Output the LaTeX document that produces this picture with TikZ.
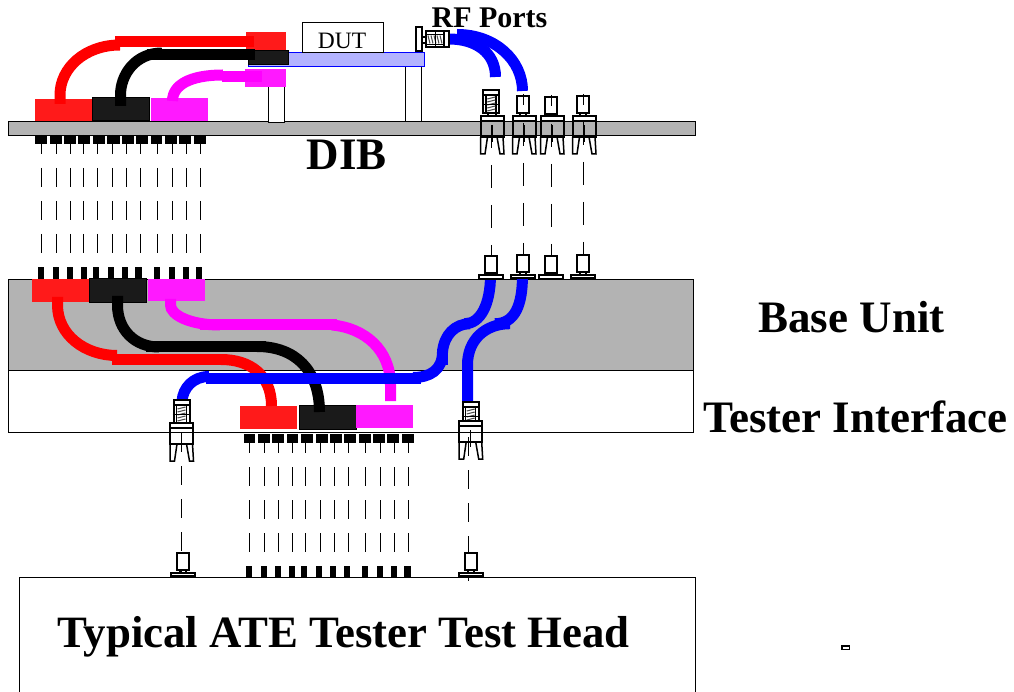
\documentclass[tikz,border=0pt]{standalone}
\usepackage{fontspec}
\setmainfont{Liberation Serif}
\definecolor{boardgray}{HTML}{B3B3B3}
\definecolor{dutblue}{HTML}{B3B3FF}
\definecolor{blockred}{HTML}{FF1A1A}
\definecolor{blockblack}{HTML}{1A1A1A}
\definecolor{blockpink}{HTML}{FF19FF}
\definecolor{cablepink}{HTML}{FF00FF}
\tikzset{
    board/.style={draw=black,line width=1pt},
    cable/.style={line width=11pt},
    sock/.style={draw=black,line width=2pt},
    pinrun/.style={line width=1pt,dash pattern=on 19pt off 14pt},
    rfrun/.style={line width=1pt,dash pattern=on 23pt off 17pt},
    bigtext/.style={anchor=base,font=\fontsize{45}{50}\selectfont\bfseries},
    % socket body with the two legs
    sockbody/.pic={
        \draw[sock] (-11.5,0) rectangle (11.5,21);
        \draw[sock,fill=white] (-11.5,0) rectangle (11.5,5);
        \draw[sock,line width=1.5pt] (-11.5,21) -- (-11.5,38) -- (-7,38) -- (-4.5,21);
        \draw[sock,line width=1.5pt] (5,21) -- (8,38) -- (12,38) -- (11,21);
        \draw[black,line width=1pt] (0,9) -- (0,26);
    },
    % cable head with the spring inside
    springhead/.pic={
        \draw[sock,fill=white] (-8,0) rectangle (8,23);
        \draw[sock] (-8,5) -- (8,5);
        \draw[black,line width=1.5pt] (-5,5) -- (-5,23);
        \draw[black,line width=1.5pt] (5,5) -- (5,23);
        \foreach \y in {8,11,14,17,20}
            \draw[black!70,line width=1pt] (-4,\y+1) -- (4,\y-1);
        \draw[black,line width=0.8pt] (-9,14) -- (9,14);
    },
    % plain barrel standing on a socket
    barrel/.pic={
        \draw[sock,fill=white] (-6,0) rectangle (6,17);
        \draw[black,line width=1pt] (0,-2) -- (0,9);
    },
    % barrel with flange on a mating face
    jack/.pic={
        \draw[sock,fill=white] (-6,0) rectangle (6,17);
        \draw[sock] (-3,17) rectangle (3,20);
        \draw[sock,fill=white] (-12,19.5) rectangle (12,23);
    }
}

\begin{document}
\begin{tikzpicture}[x=1pt,y=-1pt]
    \useasboundingbox (0,0) rectangle (1014,692);

    % Boards
    \draw[board,fill=boardgray] (8,121.5) rectangle (695,135.5);
    \draw[board,fill=boardgray] (8,279.5) rectangle (693,370.5);
    \draw[board] (8,370.5) rectangle (693,432);
    \draw[board] (19,692) -- (19,577.5) -- (695,577.5) -- (695,692);

    % Posts, load bar and DUT
    \draw[board,fill=white] (268,80) rectangle (284,122.5);
    \draw[board,fill=white] (405,60) rectangle (421,121.5);
    \draw[board,draw=blue,fill=dutblue] (248,53) rectangle (424,67);
    \draw[board,fill=white] (302,23) rectangle (383,53);
    \node[anchor=base,font=\fontsize{23.5}{26}\selectfont] (duttext) at (342,49) {DUT};

    % Digital pin runs, DIB to base unit
    \foreach \x in {41,56.5,70,83,97,112,126,140,157,172,186,200}
        \draw[pinrun] (\x,135) -- (\x,270);
    \foreach \x/\w in {35/12,50/12,64/12,78/12,93/12,107/13,122/12,136/12,151/11,165/12,179/12,194/12}
        \fill (\x,135) rectangle +(\w,9.5);
    \foreach \x/\w in {38/6,53/6,67/6,81/6,93/6,108/6,122/6,135/7,154/6,169/6,183/6,196/6}
        \fill (\x,267.5) rectangle +(\w,11.5);

    % Digital pin runs, interface to test head
    \foreach \x in {249.3,264.3,278.3,292.3,305.3,320.3,334.3,348.3,365.3,380.3,394.3,408.3}
        \draw[pinrun] (\x,434) -- (\x,570);
    \foreach \x/\w in {244/11,258/12,272/12,287/11,301/12,316/12,330/12,344/12,359/12,373/12,387/12,402/12}
        \fill (\x,433.5) rectangle +(\w,9);
    \foreach \x/\w in {246/6,261/6,275/6,289/6,301/6,316/6,330/6,344/6,362/6,377/6,391/6,404/7}
        \fill (\x,566) rectangle +(\w,11);

    % RF pin runs
    \draw[rfrun] (491.3,125) -- (491.3,257);
    \draw[rfrun] (523.3,123) -- (523.3,256);
    \draw[rfrun] (551.3,124) -- (551.3,257);
    \draw[rfrun] (583.3,122) -- (583.3,256);
    \draw[pinrun] (181.3,433) -- (181.3,577);
    \draw[pinrun] (468.3,437) -- (468.3,581);

    % Blocks on the DIB
    \fill[blockred] (35,99) rectangle (92,121);
    \draw[board,fill=blockblack] (92,98) rectangle (149,121);
    \fill[blockpink] (151,98) rectangle (208,121);
    \fill[blockred] (246,32) rectangle (286,50);
    \draw[board,fill=blockblack] (248,51) rectangle (288,65);
    \fill[blockpink] (245,69) rectangle (286,87);

    % Cables on the DIB
    \draw[cable,red] (60,104) -- (60,95) .. controls (60,68) and (85,45) .. (120,45);
    \draw[cable,red] (115,41.5) -- (254,41.5);
    \draw[cable,black] (120.5,106) -- (120.5,95) .. controls (120.5,75) and (135,53) .. (162,53);
    \draw[cable,black] (147,54.5) -- (255,54.5);
    \draw[cable,cablepink] (172.5,101) .. controls (172.5,85) and (190,75) .. (223,75);
    \draw[cable,cablepink] (222,76.5) -- (262,76.5);
    \draw[cable,blue] (449,39) .. controls (475,39) and (495.5,52) .. (495.5,77);
    \draw[cable,blue] (457,34.5) .. controls (495,34.5) and (522.5,60) .. (522.5,91);

    % Blocks in the base unit and interface
    \fill[blockred] (32,279) rectangle (89,302);
    \draw[board,fill=blockblack] (89,279) rectangle (146,302.5);
    \fill[blockpink] (148,279) rectangle (205,301);
    \fill[blockred] (240,406) rectangle (297,429);
    \draw[board,fill=blockblack] (299,405) rectangle (356,429);
    \fill[blockpink] (356,405) rectangle (413,428);

    % Cables in the base unit
    \draw[cable,red] (57.5,297) -- (57.5,305) .. controls (57.5,335) and (85,355.5) .. (117,355.5);
    \draw[cable,red] (112,359.5) -- (221,359.5);
    \draw[cable,red] (221,359.5) .. controls (250,359.5) and (271.5,375) .. (271.5,406);
    \draw[cable,black] (117.5,296) -- (117.5,305) .. controls (117.5,330) and (135,347) .. (159,347);
    \draw[cable,black] (146,346.5) -- (266,346.5);
    \draw[cable,black] (257,346.5) .. controls (295,346.5) and (319.5,370) .. (319.5,412);
    \draw[cable,cablepink] (170.5,299) -- (170.5,305) .. controls (170.5,315) and (190,325) .. (220,325);
    \draw[cable,cablepink] (200,324.7) -- (337,324.7);
    \draw[cable,cablepink] (332,325) .. controls (365,328) and (390.5,350) .. (390.5,385) -- (390.5,401);
    \draw[cable,blue] (182,401) .. controls (183,388) and (193,376.5) .. (209,376.5);
    \draw[cable,blue] (206,378.5) -- (421,378.5);
    \draw[cable,blue] (413,377.5) .. controls (430,377.5) and (442.5,370) .. (442.5,352);
    \draw[cable,blue] (442.5,349) -- (442.5,365);
    \draw[cable,blue] (442.5,352) .. controls (444,335) and (455,323.7) .. (470,323.7);
    \draw[cable,blue] (465,323.7) .. controls (480,323.7) and (490.5,305) .. (490.5,275);
    \draw[cable,blue] (522.5,275) .. controls (522.5,305) and (515,323.7) .. (495,323.7);
    \draw[cable,blue] (510,323.7) .. controls (485,323.7) and (467.5,340) .. (467.5,365) -- (467.5,403);

    % RF connectors on the DIB
    \draw[sock,fill=white] (488,113) rectangle (496,116);
    \pic at (491.2,90) {springhead};
    \pic at (492,116) {sockbody};
    \foreach \x/\y in {523/96,551/97,583/96} {
        \draw[sock] (\x-3,\y+17) rectangle (\x+3,116);
        \pic at (\x,\y) {barrel};
        \pic at (\x+1,116) {sockbody};
    }
    \draw[sock,fill=white] (416,27) rectangle (422,51);
    \draw[sock] (422,37) rectangle (426,43);
    \pic[rotate=-90] at (449,39.5) {springhead};

    % RF connectors on the base unit
    \foreach \x/\y in {491/256,523/255.5,551/256,583/255.5}
        \pic at (\x,\y) {jack};

    % RF connectors on the interface and test head
    \pic at (181.5,400) {springhead};
    \pic at (181.5,423) {sockbody};
    \pic at (470.7,402) {springhead};
    \pic at (470.7,421) {sockbody};
    \pic at (182.5,553) {jack};
    \pic at (470.5,553) {jack};

    % Labels
    \node[anchor=base,font=\fontsize{30}{34}\selectfont\bfseries] (rftext) at (489.5,27.5) {RF Ports};
    \node[bigtext] (dibtext) at (347,170) {DIB};
    \node[bigtext] (basetext) at (851.5,333) {Base Unit};
    \node[bigtext] (testertext) at (855.5,432) {Tester Interface};
    \node[bigtext,font=\fontsize{44.8}{50}\selectfont\bfseries] (atetext) at (343.5,647) {Typical ATE Tester Test Head};

    % Stray mark
    \draw[sock,fill=white,line width=1.5pt] (842,646) rectangle (849.5,649.5);
\end{tikzpicture}
\end{document}
